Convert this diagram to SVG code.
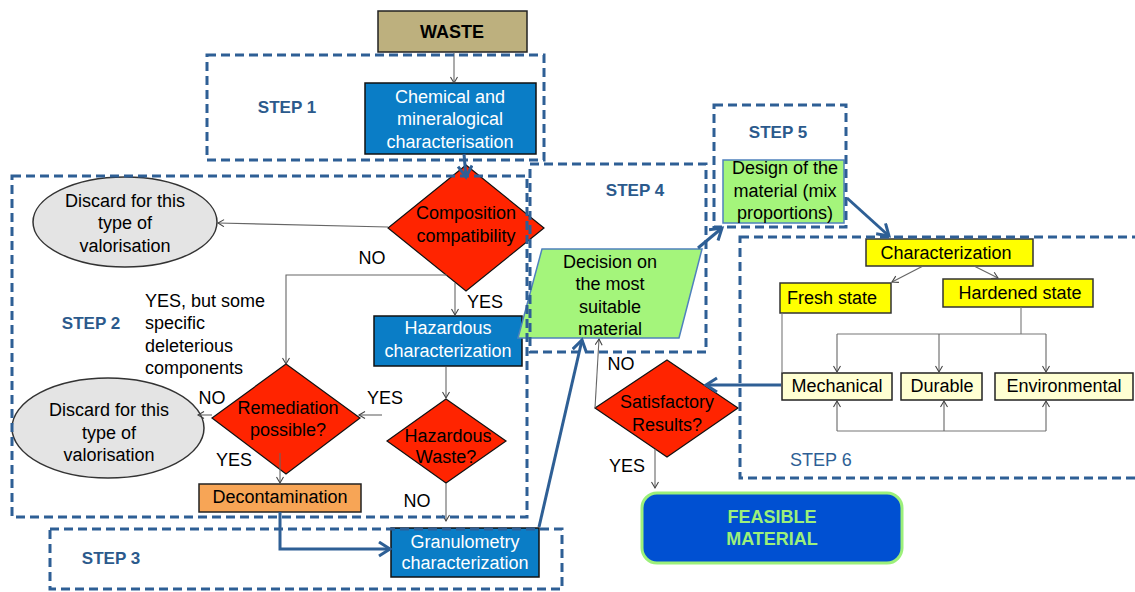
<svg xmlns="http://www.w3.org/2000/svg" width="1135" height="592" viewBox="0 0 1135 592">
<style>
text{font-family:"Liberation Sans",Arial,sans-serif;font-size:18px;fill:#000}
.c{text-anchor:middle}
.w{fill:#fff}
.b{font-weight:bold}
.st{font-weight:bold;fill:#2B5A8C;font-size:17px}
.blue{fill:#0A7DC6;stroke:#111;stroke-width:1.5}
.red{fill:#FF2400;stroke:#111;stroke-width:1.2}
.grn{fill:#A4F57B;stroke:#4F81BD;stroke-width:1.5}
.ell{fill:#E4E4E4;stroke:#333;stroke-width:1.5}
.yel{fill:#FFFF00;stroke:#333;stroke-width:1.5}
.pale{fill:#FFFFD2;stroke:#222;stroke-width:1.5}
.step{fill:none;stroke:#2E5F95;stroke-width:3;stroke-dasharray:9 5}
.thin{fill:none;stroke:#666;stroke-width:1.1;marker-end:url(#ta)}
.line{fill:none;stroke:#777;stroke-width:1.1}
.bl{fill:none;stroke:#2E5F95;stroke-width:3;marker-end:url(#ba)}
</style>
<defs>
<marker id="ta" markerUnits="userSpaceOnUse" markerWidth="10" markerHeight="10" refX="7" refY="4" orient="auto">
<path d="M1,0.5 L7,4 L1,7.5" fill="none" stroke="#444" stroke-width="1.1"/>
</marker>
<marker id="ba" markerUnits="userSpaceOnUse" markerWidth="18" markerHeight="18" refX="13" refY="8" orient="auto">
<path d="M2,1 L13,8 L2,15" fill="none" stroke="#2E5F95" stroke-width="3"/>
</marker>
</defs>

<g id="waste"><rect x="378" y="11" width="149" height="41" fill="#BDB07E" stroke="#222" stroke-width="1.5"/><text class="c b" x="452" y="38">WASTE</text></g>

<g id="chemical"><rect class="blue" x="365" y="83" width="171" height="71"/><text class="c w" x="450" y="103">Chemical and</text><text class="c w" x="450" y="125">mineralogical</text><text class="c w" x="450" y="148">characterisation</text></g>

<g id="composition"><polygon class="red" points="466,165 544,228 466,291 388,228"/><text class="c" x="466" y="219">Composition</text><text class="c" x="466" y="242">compatibility</text></g>

<g id="discard1"><ellipse class="ell" cx="125" cy="222" rx="92" ry="45"/><text class="c" x="125" y="207">Discard for this</text><text class="c" x="125" y="229">type of</text><text class="c" x="125" y="252">valorisation</text></g>

<g id="hazchar"><rect class="blue" x="374" y="316" width="148" height="50"/><text class="c w" x="448" y="334">Hazardous</text><text class="c w" x="448" y="357">characterization</text></g>

<g id="remediation"><polygon class="red" points="286,364 360,418 286,474 212,418"/><text class="c" x="288" y="414">Remediation</text><text class="c" x="288" y="436">possible?</text></g>

<g id="discard2"><ellipse class="ell" cx="108" cy="428" rx="96" ry="50"/><text class="c" x="109" y="416">Discard for this</text><text class="c" x="109" y="439">type of</text><text class="c" x="109" y="461">valorisation</text></g>

<g id="hazwaste"><polygon class="red" points="446,399 506,441 446,483 387,441"/><text class="c" x="448" y="442">Hazardous</text><text class="c" x="446" y="463">Waste?</text></g>

<g id="decontamination"><rect x="199" y="484" width="162" height="28" fill="#F7A556" stroke="#222" stroke-width="1.5"/><text class="c" x="280" y="503">Decontamination</text></g>

<g id="granulometry"><rect class="blue" x="391" y="528" width="148" height="49"/><text class="c w" x="465" y="548">Granulometry</text><text class="c w" x="465" y="569">characterization</text></g>

<g id="decision"><polygon class="grn" points="542,249 702,249 679,338 518,338"/><text class="c" x="610" y="268">Decision on</text><text class="c" x="610" y="290">the most</text><text class="c" x="610" y="313">suitable</text><text class="c" x="610" y="335">material</text></g>

<g id="design"><rect class="grn" x="723" y="160" width="121" height="63"/><text class="c" x="785" y="174">Design of the</text><text class="c" x="785" y="197">material (mix</text><text class="c" x="785" y="219">proportions)</text></g>

<g id="characterization"><rect class="yel" x="866" y="239" width="167" height="27"/><text class="c" x="946" y="259">Characterization</text></g>
<g id="fresh"><rect class="yel" x="780" y="283" width="111" height="30"/><text x="787" y="304">Fresh state</text></g>
<g id="hardened"><rect class="yel" x="943" y="279" width="150" height="28"/><text class="c" x="1020" y="299">Hardened state</text></g>
<g id="mechanical"><rect class="pale" x="782" y="373" width="110" height="27"/><text class="c" x="837" y="392">Mechanical</text></g>
<g id="durable"><rect class="pale" x="901" y="373" width="81" height="27"/><text class="c" x="942" y="392">Durable</text></g>
<g id="environmental"><rect class="pale" x="995" y="373" width="138" height="27"/><text class="c" x="1064" y="392">Environmental</text></g>

<g id="satisfactory"><polygon class="red" points="667,360 738,408 667,457 595,408"/><text class="c" x="667" y="408">Satisfactory</text><text class="c" x="667" y="431">Results?</text></g>

<g id="feasible"><rect x="642" y="493" width="260" height="70" rx="15" fill="#0050D2" stroke="#9CF07A" stroke-width="3"/><text class="c b" x="772" y="523" fill="#9CF07A" style="fill:#9CF07A">FEASIBLE</text><text class="c b" x="772" y="545" style="fill:#9CF07A">MATERIAL</text></g>

<g id="connectors">
<line class="thin" x1="454" y1="52" x2="454" y2="83"/>
<line class="thin" x1="388" y1="227" x2="218" y2="223"/>
<path class="thin" d="M447,275 H286 V364"/>
<line class="thin" x1="455" y1="283" x2="455" y2="315"/>
<line class="thin" x1="212" y1="415" x2="198" y2="415"/>
<line class="thin" x1="382" y1="415" x2="359" y2="415"/>
<line class="thin" x1="280" y1="453" x2="280" y2="483"/>
<line class="thin" x1="446" y1="367" x2="446" y2="398"/>
<line class="thin" x1="446" y1="483" x2="446" y2="521"/>
<line class="thin" x1="595" y1="408" x2="599" y2="339"/>
<line class="thin" x1="655" y1="449" x2="655" y2="488"/>
<line class="thin" x1="923" y1="266" x2="892" y2="282"/>
<line class="thin" x1="974" y1="266" x2="998" y2="278"/>
<path class="line" d="M1021,307 V334 M837,334 H1046"/>
<line class="thin" x1="837" y1="334" x2="837" y2="372"/>
<line class="thin" x1="939" y1="334" x2="939" y2="372"/>
<line class="thin" x1="1046" y1="334" x2="1046" y2="372"/>
<line class="line" x1="782" y1="313" x2="782" y2="373"/>
<path class="line" d="M837,431 H1046"/>
<line class="thin" x1="837" y1="431" x2="837" y2="401"/>
<line class="thin" x1="944" y1="431" x2="944" y2="401"/>
<line class="thin" x1="1046" y1="431" x2="1046" y2="401"/>
<line class="bl" x1="464" y1="154" x2="466" y2="177"/>
<path class="bl" d="M280,512 V549 H390"/>
<line class="bl" x1="539" y1="527" x2="582" y2="340"/>
<line class="bl" x1="698" y1="248" x2="722" y2="228"/>
<line class="bl" x1="847" y1="198" x2="889" y2="236"/>
<line class="bl" x1="781" y1="385" x2="706" y2="385"/>
</g>

<g id="labels">
<text class="c" x="372" y="264">NO</text>
<text class="c" x="485" y="308">YES</text>
<text x="145" y="307">YES, but some</text>
<text x="145" y="329">specific</text>
<text x="145" y="352">deleterious</text>
<text x="145" y="374">components</text>
<text class="c" x="212" y="404">NO</text>
<text class="c" x="385" y="404">YES</text>
<text class="c" x="234" y="466">YES</text>
<text class="c" x="417" y="507">NO</text>
<text class="c" x="621" y="370">NO</text>
<text class="c" x="627" y="472">YES</text>
</g>

<g id="steps">
<rect class="step" x="207" y="55" width="337" height="105"/>
<rect class="step" x="12" y="176" width="515" height="341"/>
<rect class="step" x="50" y="529" width="512" height="60"/>
<rect class="step" x="530" y="164" width="176" height="188"/>
<rect class="step" x="714" y="105" width="132" height="122"/>
<rect class="step" x="740" y="237" width="420" height="241"/>
<text class="st c" x="287" y="113">STEP 1</text>
<text class="st c" x="91" y="329">STEP 2</text>
<text class="st c" x="111" y="564">STEP 3</text>
<text class="st c" x="635" y="196">STEP 4</text>
<text class="st c" x="778" y="138">STEP 5</text>
<text x="790" y="466" style="fill:#2E5F95">STEP 6</text>
</g>
</svg>
